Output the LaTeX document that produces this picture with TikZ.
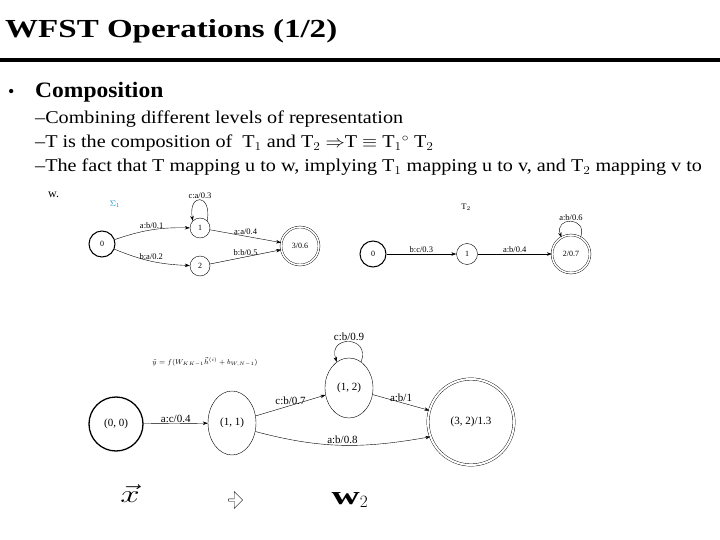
\documentclass[tikz,border=0pt]{standalone}
\usepackage{fontspec}
\usepackage{graphicx}
\setmainfont{Liberation Serif}
\usetikzlibrary{arrows.meta,shapes.geometric,shapes.arrows}
\begin{document}
\begin{tikzpicture}[x=1pt,y=-1pt,
  st/.style={circle,draw,inner sep=0pt,minimum size=#1,font=\fontsize{8}{9}\selectfont},
  ell/.style={ellipse,draw,inner sep=0pt,font=\fontsize{11}{12}\selectfont},
  lab/.style={font=\fontsize{8.5}{10}\selectfont,inner sep=1pt},
  blab/.style={font=\fontsize{11}{12}\selectfont,inner sep=1pt},
  arr/.style={-{Stealth[length=5pt,width=3.5pt]},line width=0.4pt},
  txt/.style={anchor=base west,inner sep=0pt,font=\fontsize{18}{20}\selectfont}]
\useasboundingbox (0,0) rectangle (720,540);
\fill[white] (0,0) rectangle (720,540);
\node[anchor=base west,inner sep=0pt,font=\bfseries\fontsize{26}{28}\selectfont] (title) at (5,38) {\scalebox{1.27}[1]{WFST Operations (1/2)}};
\draw[line width=3.5pt] (0,60) -- (720,60);
\node[anchor=base west,inner sep=0pt,font=\fontsize{18}{18}\selectfont] (bul) at (8,98) {•};
\node[anchor=base west,inner sep=0pt,font=\bfseries\fontsize{22}{24}\selectfont] (comp) at (35,98) {\scalebox{1.07}[1]{Composition}};
\node[txt] (l1) at (35,124) {\scalebox{1.12}[1]{–Combining different levels of representation}};
\node[txt] (l2) at (35,148) {\scalebox{1.12}[1]{–T is the composition of \ T$_1$ and T$_2$ $\Rightarrow$T $\equiv$ T$_1$$^\circ$ T$_2$}};
\node[txt] (l3) at (35,172) {\scalebox{1.12}[1]{–The fact that T mapping u to w, implying T$_1$ mapping u to v, and T$_2$ mapping v to}};
\node[anchor=base west,inner sep=0pt,font=\fontsize{12}{13}\selectfont] (l4) at (48,198) {w.};
% T1
\node[lab,text=cyan!70!blue] (sig) at (115,204) {$\Sigma_1$};
\node[st=26pt,line width=1pt] (a0) at (102,244) {0};
\node[st=20pt] (a1) at (200,228) {1};
\node[st=20pt] (a2) at (200,266) {2};
\node[st=38pt,double,double distance=1.5pt] (a3) at (300,246) {3/0.6};
\draw[arr] (a0) to[bend left=10] node[lab,above]{a:b/0.1} (a1);
\draw[arr] (a0) to[bend right=10] node[lab,above]{b:a/0.2} (a2);
\draw[arr] (a1) to node[lab,above]{a:a/0.4} (a3);
\draw[arr] (a2) to node[lab,above]{b:b/0.5} (a3);
\draw[arr] (a1.north east) to[out=80,in=100,looseness=5] node[lab,above]{c:a/0.3} (a1.north west);
% T2
\node[lab] (t2) at (466,207) {T$_2$};
\node[st=26pt,line width=1pt] (b0) at (373,254) {0};
\node[st=21pt] (b1) at (467,254) {1};
\node[st=38pt,double,double distance=1.5pt] (b2) at (571,254) {2/0.7};
\draw[arr] (b0) to node[lab,above]{b:c/0.3} (b1);
\draw[arr] (b1) to node[lab,above]{a:b/0.4} (b2);
\draw[arr] (b2.60) to[out=70,in=110,looseness=3] node[lab,above]{a:b/0.6} (b2.120);
% composed
\node[st=54pt,line width=1.3pt,font=\fontsize{11}{12}\selectfont] (c0) at (116,424) {(0, 0)};
\node[ell,minimum width=48pt,minimum height=64pt] (c1) at (232,423) {(1, 1)};
\node[ell,minimum width=48pt,minimum height=60pt] (c2) at (349,388) {(1, 2)};
\node[st=86pt,double,double distance=2pt,font=\fontsize{11}{12}\selectfont] (c3) at (471,422) {(3, 2)/1.3};
\draw[arr] (c0) to node[blab,above]{a:c/0.4} (c1);
\draw[arr] (c1) to node[blab,above]{c:b/0.7} (c2);
\draw[arr] (c2) to node[blab,above]{a:b/1} (c3);
\draw[arr] (c1.-20) to[out=-15,in=190] node[blab,above]{a:b/0.8} (c3.200);
\draw[arr] (c2.65) to[out=70,in=110,looseness=3] node[blab,above]{c:b/0.9} (c2.115);
\node[font=\fontsize{7}{8}\selectfont] (form) at (205,362) {$\tilde{y}=f(W_{KK-1}\vec{h}^{(i)}+b_{W,N-1})$};
\node[font=\fontsize{34}{34}\selectfont] (xv) at (130,494) {\scalebox{1.4}[1]{$\vec{x}$}};
\node[single arrow,draw,minimum height=14pt,minimum width=12pt,inner sep=1pt] (ha) at (235,500) {};
\node[font=\bfseries\fontsize{26}{26}\selectfont] (w2) at (350,500) {\scalebox{1.5}[1]{w}$_2$};
\end{tikzpicture}
\end{document}
